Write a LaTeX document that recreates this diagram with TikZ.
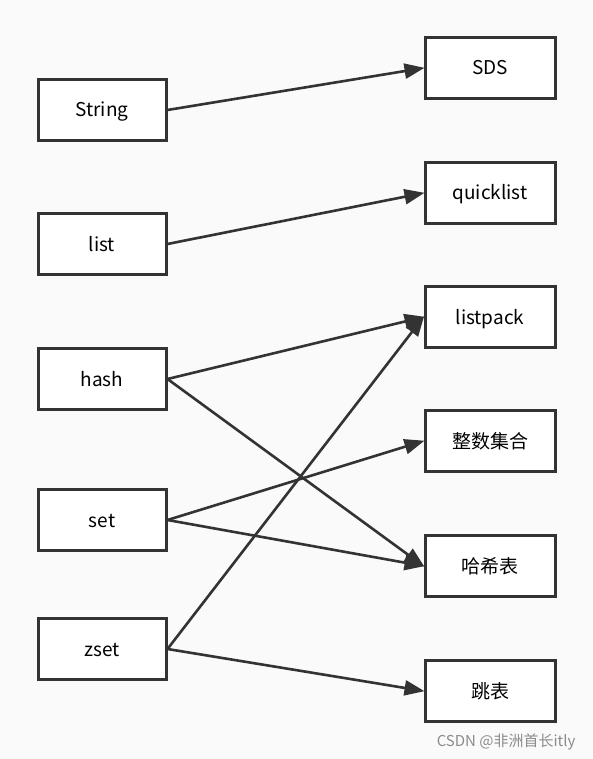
\documentclass[tikz,border=0pt]{standalone}
\usepackage{fontspec}
\setmainfont{Noto Sans CJK SC}
\usetikzlibrary{arrows.meta}

\begin{document}
\begin{tikzpicture}[x=1pt,y=-1pt]
        \tikzstyle{typebox} = [rectangle, minimum width=128pt, minimum height=61pt, text centered, text height=17pt, text depth=3pt, draw=black!80, line width=3pt, fill=white, font=\fontsize{19}{22}\selectfont]
        \tikzstyle{implbox} = [typebox, minimum width=130pt]
        \tikzstyle{arrow} = [line width=2.6pt, draw=black!80, -{Triangle[length=20pt,width=15pt]}, shorten >=-1pt]

        \fill[black!2] (0,0) rectangle (592,759);

        \node (string) [typebox] at (102,110) {String};
        \node (list) [typebox] at (102,244) {list};
        \node (hash) [typebox] at (102,379) {hash};
        \node (set) [typebox] at (102,520) {set};
        \node (zset) [typebox] at (102,649) {zset};

        \node (sds) [implbox] at (490,68) {SDS};
        \node (quicklist) [implbox] at (490,193) {quicklist};
        \node (listpack) [implbox] at (490,317) {listpack};
        \node (intset) [implbox] at (490,441) {整数集合};
        \node (hashtable) [implbox] at (490,566) {哈希表};
        \node (skiplist) [implbox] at (490,691) {跳表};

        \draw [arrow] (string.east) -- (sds.west);
        \draw [arrow] (list.east) -- (quicklist.west);
        \draw [arrow] (hash.east) -- (listpack.west);
        \draw [arrow] (hash.east) -- (hashtable.west);
        \draw [arrow] (set.east) -- (intset.west);
        \draw [arrow] (set.east) -- (hashtable.west);
        \draw [arrow] (zset.east) -- (listpack.west);
        \draw [arrow] (zset.east) -- (skiplist.west);

        \node (mark) [text=black!45, font=\fontsize{15}{17}\selectfont, anchor=east] at (579,742) {CSDN @非洲首长itly};
    \end{tikzpicture}
\end{document}
